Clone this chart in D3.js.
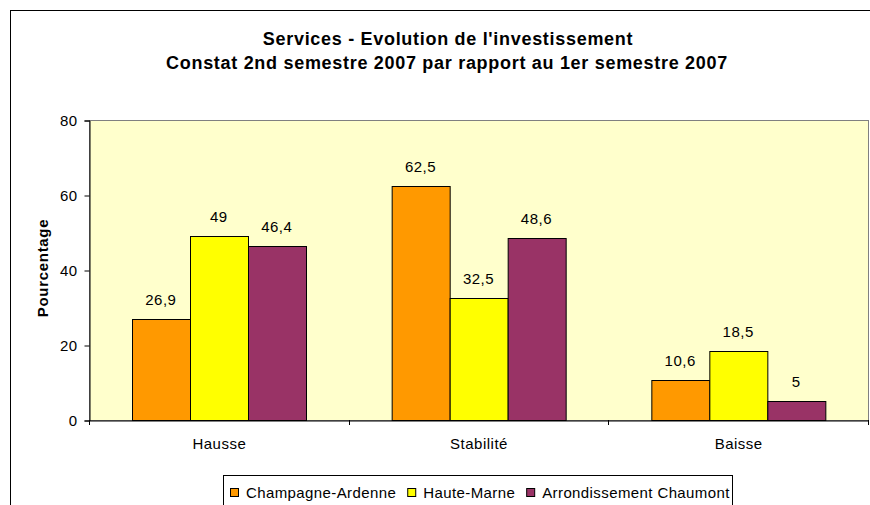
<!DOCTYPE html>
<html lang="fr">
<head>
  <meta charset="UTF-8" />
  <title>Services - Evolution de l'investissement</title>
  <script src="https://d3js.org/d3.v7.min.js"></script>
  <style>
    body { margin: 0; background: #fff; }
    svg { display: block; font-family: "Liberation Sans", Arial, sans-serif; }
  </style>
</head>
<body>
  <svg></svg>
  <script>
    const categories = ["Hausse", "Stabilité", "Baisse"];
    const seriesNames = ["Champagne-Ardenne", "Haute-Marne", "Arrondissement Chaumont"];
    const champagne = [26.9, 62.5, 10.6];
    const hauteMarne = [49, 32.5, 18.5];
    const chaumont = [46.4, 48.6, 5];
    const yTicks = [0, 20, 40, 60, 80];
    const colors = ["#FF9900", "#FFFF00", "#993366"];

    const series = [champagne, hauteMarne, chaumont];
    const width = 870, height = 505;
    const plot = { left: 89, top: 120, right: 868, bottom: 420 };

    const svg = d3.select("svg").attr("width", width).attr("height", height);

    // cadre extérieur
    svg.append("rect")
      .attr("x", 10.5).attr("y", 10.5)
      .attr("width", 880).attr("height", 520)
      .attr("fill", "#fff").attr("stroke", "#000");

    svg.append("text")
      .attr("x", 448).attr("y", 45)
      .attr("text-anchor", "middle")
      .style("font-size", "18px").style("font-weight", "bold").style("letter-spacing", "0.7px")
      .text("Services - Evolution de l'investissement");
    svg.append("text")
      .attr("x", 447).attr("y", 69)
      .attr("text-anchor", "middle")
      .style("font-size", "18px").style("font-weight", "bold").style("letter-spacing", "0.7px")
      .text("Constat 2nd semestre 2007 par rapport au 1er semestre 2007");

    const x0 = d3.scaleBand().domain(categories).range([plot.left, plot.right]).paddingInner(0).paddingOuter(0);
    const x1 = d3.scaleBand().domain(d3.range(series.length)).range([0, x0.bandwidth()]).paddingOuter(0.74).paddingInner(0);
    const y = d3.scaleLinear().domain([0, 80]).range([plot.bottom, plot.top]);

    svg.append("rect")
      .attr("x", plot.left + 0.5).attr("y", plot.top + 0.5)
      .attr("width", plot.right - plot.left).attr("height", plot.bottom - plot.top)
      .attr("fill", "#FFFFCC").attr("stroke", "#808080");

    const groups = svg.append("g").selectAll("g")
      .data(categories)
      .join("g")
      .attr("transform", d => `translate(${x0(d)},0)`);

    groups.selectAll("rect")
      .data((c, i) => series.map((s, k) => ({ k, v: s[i] })))
      .join("rect")
      .attr("x", d => Math.round(x1(d.k)) + 0.5)
      .attr("y", d => Math.round(y(d.v)) + 0.5)
      .attr("width", Math.round(x1.bandwidth()))
      .attr("height", d => Math.round(y(0)) - Math.round(y(d.v)))
      .attr("fill", d => colors[d.k])
      .attr("stroke", "#000").attr("stroke-width", 1);

    groups.selectAll("text")
      .data((c, i) => series.map((s, k) => ({ k, v: s[i] })))
      .join("text")
      .attr("x", d => x1(d.k) + x1.bandwidth() / 2)
      .attr("y", d => y(d.v) - 14)
      .attr("text-anchor", "middle")
      .style("font-size", "15px").style("letter-spacing", "0.5px")
      .text(d => String(d.v).replace(".", ","));

    // axe Y
    const yAxis = svg.append("g")
      .attr("transform", `translate(${plot.left + 0.5},0.5)`)
      .call(d3.axisLeft(y).tickValues(yTicks).tickSize(5).tickPadding(7));
    yAxis.select(".domain").attr("stroke", "#000");
    yAxis.selectAll(".tick line").attr("stroke", "#000");
    yAxis.selectAll("text").style("font-size", "15px").style("font-family", "Liberation Sans, Arial, sans-serif").style("letter-spacing", "0.4px").attr("fill", "#000");

    // axe X
    const xAxis = svg.append("g")
      .attr("transform", `translate(0.5,${plot.bottom + 0.5})`)
      .call(d3.axisBottom(x0).tickSize(0).tickPadding(18));
    xAxis.select(".domain").attr("stroke", "#000");
    xAxis.selectAll("text").style("font-size", "15px").style("font-family", "Liberation Sans, Arial, sans-serif").style("letter-spacing", "0.5px").attr("fill", "#000");
    svg.append("g").selectAll("line")
      .data(d3.range(categories.length + 1))
      .join("line")
      .attr("x1", i => Math.round(plot.left + i * x0.step()) + 0.5)
      .attr("x2", i => Math.round(plot.left + i * x0.step()) + 0.5)
      .attr("y1", plot.bottom).attr("y2", plot.bottom + 5)
      .attr("stroke", "#000");

    svg.append("text")
      .attr("transform", `translate(48,${(plot.top + plot.bottom) / 2 - 2}) rotate(-90)`)
      .attr("text-anchor", "middle")
      .style("font-size", "15px").style("font-weight", "bold").style("letter-spacing", "0.7px")
      .text("Pourcentage");

    // légende
    const legend = svg.append("g");
    legend.append("rect")
      .attr("x", 223.5).attr("y", 475.5)
      .attr("width", 509).attr("height", 60)
      .attr("fill", "#fff").attr("stroke", "#000");
    let lx = 230;
    seriesNames.forEach((name, k) => {
      legend.append("rect")
        .attr("x", lx + 0.5).attr("y", 488.5)
        .attr("width", 8).attr("height", 8)
        .attr("fill", colors[k]).attr("stroke", "#000");
      const t = legend.append("text")
        .attr("x", lx + 16).attr("y", 498)
        .style("font-size", "15px").style("letter-spacing", "0.4px")
        .text(name);
      lx += 16 + t.node().getComputedTextLength() + 11;
    });
  </script>
</body>
</html>
